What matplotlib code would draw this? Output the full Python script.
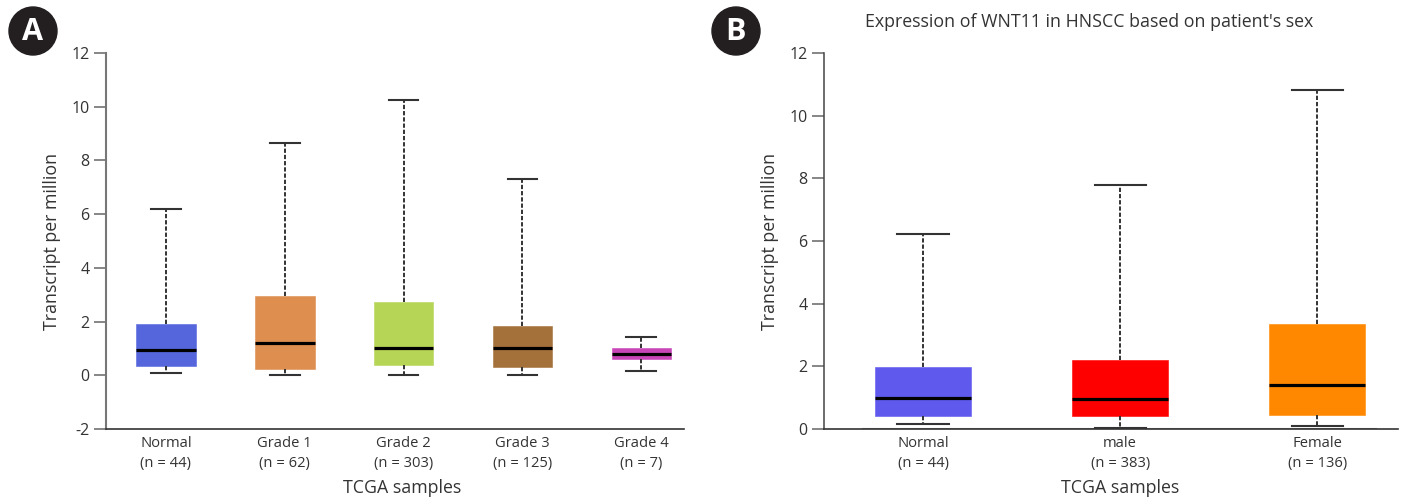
import matplotlib
matplotlib.use("Agg")
from matplotlib import pyplot as plt
from matplotlib.patches import Ellipse

W, H = 1405, 500

# panel A
labels_a = ["Normal\n(n = 44)", "Grade 1\n(n = 62)", "Grade 2\n(n = 303)", "Grade 3\n(n = 125)", "Grade 4\n(n = 7)"]
whishi_a = [6.2, 8.65, 10.25, 7.3, 1.42]
q3_a = [1.92, 2.97, 2.72, 1.83, 1.0]
med_a = [0.95, 1.2, 1.03, 1.0, 0.78]
q1_a = [0.35, 0.25, 0.38, 0.3, 0.6]
whislo_a = [0.08, 0.0, 0.0, 0.0, 0.17]
colors_a = ["#5566DD", "#DE8E4E", "#B6D455", "#A5713A", "#C845B8"]

# panel B
labels_b = ["Normal\n(n = 44)", "male\n(n = 383)", "Female\n(n = 136)"]
whishi_b = [6.22, 7.8, 10.82]
q3_b = [1.97, 2.2, 3.34]
med_b = [1.0, 0.96, 1.4]
q1_b = [0.42, 0.42, 0.45]
whislo_b = [0.15, 0.04, 0.08]
colors_b = ["#5F59EE", "#FF0000", "#FF8800"]

plt.rcParams["font.family"] = ["Open Sans", "DejaVu Sans"]
TXT = "#333333"


def make_axes(fig, left, right, top, bottom):
    return fig.add_axes([left / W, 1 - bottom / H, (right - left) / W, (bottom - top) / H])


def draw_box(ax, labels, whishi, q3, med, q1, whislo, colors, width, cap):
    stats = []
    for i in range(len(labels)):
        stats.append({"whishi": whishi[i], "q3": q3[i], "med": med[i], "q1": q1[i], "whislo": whislo[i], "fliers": []})
    parts = ax.bxp(stats, positions=range(len(labels)), widths=width, capwidths=cap,
                   patch_artist=True, showfliers=False,
                   medianprops={"color": "black", "linewidth": 2.3, "solid_capstyle": "butt"},
                   whiskerprops={"color": "#333333", "linewidth": 1.4, "linestyle": (0, (2.2, 1.0))},
                   capprops={"color": "#333333", "linewidth": 1.5})
    for box, c in zip(parts["boxes"], colors):
        box.set_facecolor(c)
        box.set_edgecolor(c)
        box.set_linewidth(0.4)
    ax.set_xticks(range(len(labels)))
    ax.set_xticklabels(labels, fontsize=10.6, color=TXT, linespacing=1.5)
    ax.tick_params(axis="x", length=0, pad=5)
    ax.tick_params(axis="y", length=9, width=1.1, labelsize=11.5, labelcolor=TXT, color="#666666", pad=3)
    ax.spines["top"].set_visible(False)
    ax.spines["right"].set_visible(False)
    ax.spines["left"].set_color("#777777")
    ax.spines["left"].set_linewidth(1.5)
    ax.spines["bottom"].set_color("#333333")
    ax.spines["bottom"].set_linewidth(1.2)
    ax.set_ylabel("Transcript per million", fontsize=12.8, color=TXT, labelpad=7)


fig = plt.figure(figsize=(W / 100, H / 100), dpi=100)

ax1 = make_axes(fig, 106, 684, 53, 429)
draw_box(ax1, labels_a, whishi_a, q3_a, med_a, q1_a, whislo_a, colors_a, 0.5, 0.25)
ax1.set_xlim(-0.505, 4.36)
ax1.set_ylim(-2, 12)
ax1.set_yticks([-2, 0, 2, 4, 6, 8, 10, 12])
ax1.set_yticklabels(["-2", "0", "2", "4", "6", "8", "10", "12"])

ax2 = make_axes(fig, 824, 1398, 53, 429)
draw_box(ax2, labels_b, whishi_b, q3_b, med_b, q1_b, whislo_b, colors_b, 0.49, 0.26)
ax2.set_xlim(-0.503, 2.41)
ax2.set_ylim(0, 12)
ax2.set_yticks([0, 2, 4, 6, 8, 10, 12])
ax2.spines["left"].set_color("#444444")
ax2.spines["left"].set_linewidth(1.1)
# grey strip lying on the baseline in the original
ax2.axhline(0, xmin=0.068, xmax=0.96, color="#888888", linewidth=2.2, zorder=1.5)

fig.text(402 / W, 1 - 488 / H, "TCGA samples", fontsize=12.8, color=TXT, ha="center", va="center")
fig.text(1120 / W, 1 - 488 / H, "TCGA samples", fontsize=12.8, color=TXT, ha="center", va="center")
fig.text(1089 / W, 1 - 22 / H, "Expression of WNT11 in HNSCC based on patient's sex", fontsize=12.8, color=TXT,
         ha="center", va="center")

# panel badges
for x, letter in [(33, "A"), (736, "B")]:
    fig.add_artist(Ellipse((x / W, 1 - 31 / H), 48 / W, 48 / H, transform=fig.transFigure, color="#231F20"))
    fig.text(x / W, 1 - 32 / H, letter, color="white", fontsize=22, fontweight="bold", ha="center", va="center")

fig.savefig("out.png", dpi=100)
